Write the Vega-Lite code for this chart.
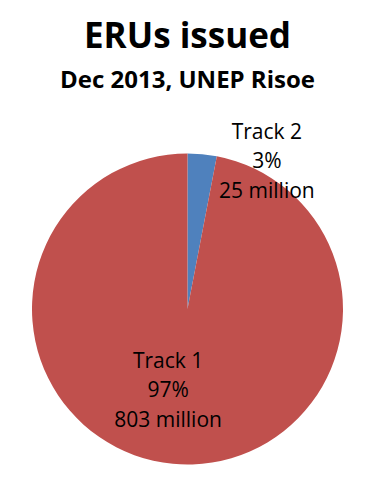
{
  "$schema": "https://vega.github.io/schema/vega-lite/v6.json",
  "width": 311,
  "height": 311,
  "autosize": {"type": "none"},
  "padding": {"left": 32, "top": 153.5, "right": 41, "bottom": 25.5},
  "background": "white",
  "title": {
    "text": "ERUs issued",
    "subtitle": "Dec 2013, UNEP Risoe",
    "anchor": "middle",
    "font": "Open Sans",
    "fontSize": 35,
    "fontWeight": "bold",
    "color": "black",
    "subtitleFont": "Open Sans",
    "subtitleFontSize": 24,
    "subtitleFontWeight": "bold",
    "subtitleColor": "black",
    "offset": 29,
    "subtitlePadding": 14
  },
  "data": {
    "values": [
      {"track": "Track 2", "value": 25, "label": "Track 2\n3%\n25 million"},
      {"track": "Track 1", "value": 803, "label": "Track 1\n97%\n803 million"}
    ]
  },
  "encoding": {
    "theta": {"field": "value", "type": "quantitative", "stack": true},
    "order": {"field": "track", "sort": "descending"}
  },
  "layer": [
    {
      "mark": {"type": "arc", "outerRadius": 155.5},
      "encoding": {
        "color": {
          "field": "track",
          "type": "nominal",
          "scale": {"domain": ["Track 2", "Track 1"], "range": ["#4F81BD", "#C0504D"]},
          "legend": null
        }
      }
    },
    {
      "mark": {"type": "text", "radius": 152, "dx": 65, "dy": -25, "font": "Open Sans", "fontSize": 21, "lineBreak": "\n", "lineHeight": 29.5, "color": "black", "align": "center", "baseline": "middle"},
      "encoding": {
        "text": {"condition": {"test": "datum.track === 'Track 2'", "field": "label", "type": "nominal"}, "value": ""}
      }
    },
    {
      "mark": {"type": "text", "radius": 78, "dx": -12, "dy": -25, "font": "Open Sans", "fontSize": 21, "lineBreak": "\n", "lineHeight": 29.5, "color": "black", "align": "center", "baseline": "middle"},
      "encoding": {
        "text": {"condition": {"test": "datum.track === 'Track 1'", "field": "label", "type": "nominal"}, "value": ""}
      }
    }
  ],
  "config": {"view": {"stroke": null}}
}
